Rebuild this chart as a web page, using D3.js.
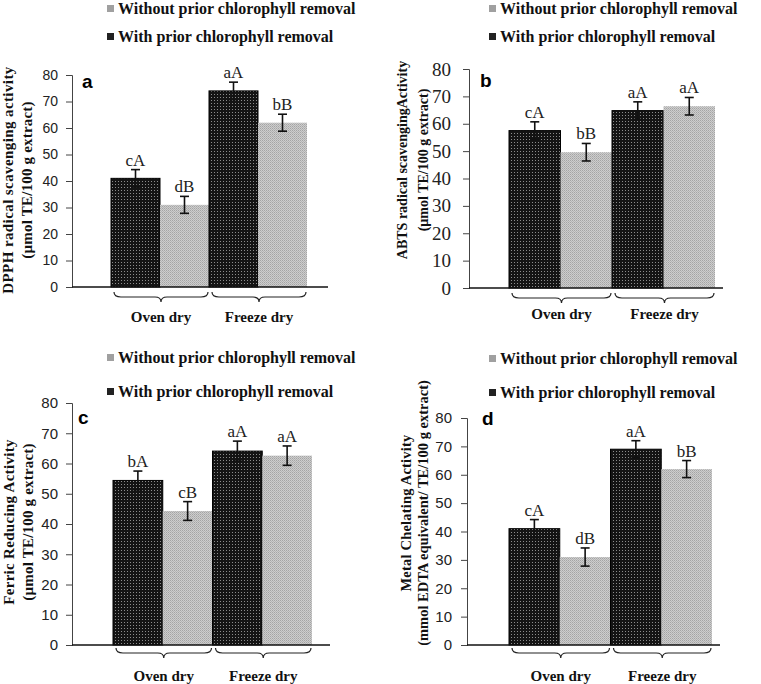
<!DOCTYPE html>
<html>
<head>
<meta charset="utf-8">
<script src="https://cdn.jsdelivr.net/npm/d3@7"></script>
<style>
  html, body { margin: 0; padding: 0; background: #fff; }
  svg { display: block; }
</style>
</head>
<body>
<div id="chart"></div>
<script>
// ---------- data ----------
const groups = ["Oven dry", "Freeze dry"];
const seriesNames = ["With prior chlorophyll removal", "Without prior chlorophyll removal"];
const legendOrder = ["Without prior chlorophyll removal", "With prior chlorophyll removal"];
const yTickValues = [0, 10, 20, 30, 40, 50, 60, 70, 80];

// a - DPPH
const dpphWith = [41, 74];
const dpphWithout = [31, 62];
const dpphErrWith = [3.3, 3.3];
const dpphErrWithout = [3.2, 3.2];
const dpphLabelsWith = ["cA", "aA"];
const dpphLabelsWithout = ["dB", "bB"];

// b - ABTS
const abtsWith = [57.5, 64.8];
const abtsWithout = [49.6, 66.4];
const abtsErrWith = [3.2, 3.2];
const abtsErrWithout = [3.2, 3.2];
const abtsLabelsWith = ["cA", "aA"];
const abtsLabelsWithout = ["bB", "aA"];

// c - Ferric reducing
const frapWith = [54.4, 64.1];
const frapWithout = [44.3, 62.6];
const frapErrWith = [3.1, 3.3];
const frapErrWithout = [3.1, 3.2];
const frapLabelsWith = ["bA", "aA"];
const frapLabelsWithout = ["cB", "aA"];

// d - Metal chelating
const mcaWith = [41, 69];
const mcaWithout = [31, 62];
const mcaErrWith = [3.2, 3.0];
const mcaErrWithout = [3.2, 3.0];
const mcaLabelsWith = ["cA", "aA"];
const mcaLabelsWithout = ["dB", "bB"];

// ---------- layout ----------
const W = 761, H = 684;
const svg = d3.select("#chart").append("svg").attr("width", W).attr("height", H);

const defs = svg.append("defs");
const pb = defs.append("pattern").attr("id", "patBlack").attr("patternUnits", "userSpaceOnUse")
  .attr("width", 3).attr("height", 3);
pb.append("rect").attr("width", 3).attr("height", 3).attr("fill", "#141414");
pb.append("rect").attr("x", 1).attr("y", 1).attr("width", 1).attr("height", 1).attr("fill", "#8c8c8c");
const pg = defs.append("pattern").attr("id", "patGrey").attr("patternUnits", "userSpaceOnUse")
  .attr("width", 2).attr("height", 2);
pg.append("rect").attr("width", 2).attr("height", 2).attr("fill", "#cdcdcd");
pg.append("rect").attr("x", 0).attr("y", 0).attr("width", 1).attr("height", 1).attr("fill", "#a4a4a4");
pg.append("rect").attr("x", 1).attr("y", 1).attr("width", 1).attr("height", 1).attr("fill", "#b4b4b4");

const fillFor = { "With prior chlorophyll removal": "url(#patBlack)", "Without prior chlorophyll removal": "url(#patGrey)" };
const legendSwatch = { "With prior chlorophyll removal": "#222", "Without prior chlorophyll removal": "#a0a0a0" };

const SERIF = "'Liberation Serif', 'Times New Roman', serif";
const SANS = "'Liberation Sans', Arial, sans-serif";

const panels = [
  { letter: "a", withV: dpphWith, withoutV: dpphWithout, errW: dpphErrWith, errWo: dpphErrWithout,
    labW: dpphLabelsWith, labWo: dpphLabelsWithout,
    ylabel: ["DPPH  radical  scavenging activity", "(µmol TE/100 g extract)"],
    axisX: 72, y0: 287, y80: 75, xStart: 111, xEnd: 307, lineEnd: 328,
    tickFont: SANS, tickSize: 14, tickPad: 8,
    labelX: [8, 27], labelCY: 180, labelSize: 15, labelSpacing: [0.4, 0.2],
    legendX: 107, legendY: [14, 42], letterX: 82, letterY: 88, groupLabelY: 322, braceY: 292 },
  { letter: "b", withV: abtsWith, withoutV: abtsWithout, errW: abtsErrWith, errWo: abtsErrWithout,
    labW: abtsLabelsWith, labWo: abtsLabelsWithout,
    ylabel: ["ABTS radical scavengingActivity", "(µmol TE/100 g extract)"],
    axisX: 469, y0: 288, y80: 69, xStart: 509, xEnd: 715, lineEnd: 723,
    tickFont: SERIF, tickSize: 19, tickPad: 12,
    labelX: [402, 423], labelCY: 160, labelSize: 14, labelSpacing: [0, 0],
    legendX: 489, legendY: [14, 42], letterX: 480, letterY: 87, groupLabelY: 319, braceY: 293 },
  { letter: "c", withV: frapWith, withoutV: frapWithout, errW: frapErrWith, errWo: frapErrWithout,
    labW: frapLabelsWith, labWo: frapLabelsWithout,
    ylabel: ["Ferric Reducing Activity", "(µmol TE/100 g extract)"],
    axisX: 72, y0: 645, y80: 403, xStart: 113, xEnd: 312, lineEnd: 330,
    tickFont: SANS, tickSize: 15, tickPad: 8,
    labelX: [9, 28], labelCY: 522, labelSize: 15, labelSpacing: [0.3, 0.2],
    legendX: 107, legendY: [363, 397], letterX: 78, letterY: 424, groupLabelY: 681, braceY: 648 },
  { letter: "d", withV: mcaWith, withoutV: mcaWithout, errW: mcaErrWith, errWo: mcaErrWithout,
    labW: mcaLabelsWith, labWo: mcaLabelsWithout,
    ylabel: ["Metal Chelating Activity", "(mmol  EDTA equivalent/ TE/100 g extract)"],
    axisX: 467, y0: 645, y80: 418, xStart: 509, xEnd: 712, lineEnd: 720,
    tickFont: SANS, tickSize: 15, tickPad: 9,
    labelX: [406, 423], labelCY: 513, labelSize: 14.5, labelSpacing: [0.2, 0],
    legendX: 489, legendY: [364, 398], letterX: 482, letterY: 425, groupLabelY: 681, braceY: 648 }
];

panels.forEach(p => {
  const g = svg.append("g");
  const y = d3.scaleLinear().domain([0, 80]).range([p.y0, p.y80]);
  const x0 = d3.scaleBand().domain(groups).range([p.xStart, p.xEnd]).paddingInner(0).paddingOuter(0);
  const x1 = d3.scaleBand().domain(seriesNames).range([0, x0.bandwidth()]).padding(0);

  // legend
  legendOrder.forEach((s, i) => {
    const ly = p.legendY[i];
    g.append("rect").attr("x", p.legendX).attr("y", ly - 9).attr("width", 7).attr("height", 7)
      .attr("fill", legendSwatch[s]);
    g.append("text").attr("x", p.legendX + 11).attr("y", ly)
      .attr("font-family", SERIF).attr("font-weight", "bold").attr("font-size", 16)
      .attr("fill", "#111").text(s);
  });

  // y axis
  const axis = d3.axisLeft(y).tickValues(yTickValues).tickSize(6).tickPadding(p.tickPad);
  const ag = g.append("g").attr("transform", `translate(${p.axisX},0)`).call(axis);
  ag.select(".domain").attr("stroke", "#444").attr("stroke-width", 1);
  ag.selectAll(".tick line").attr("stroke", "#444");
  ag.selectAll(".tick text").attr("font-family", p.tickFont).attr("font-size", p.tickSize).attr("fill", "#222");

  // bars
  const rows = [];
  groups.forEach((grp, gi) => {
    rows.push({ grp, s: seriesNames[0], v: p.withV[gi], e: p.errW[gi], lab: p.labW[gi] });
    rows.push({ grp, s: seriesNames[1], v: p.withoutV[gi], e: p.errWo[gi], lab: p.labWo[gi] });
  });
  rows.forEach(r => {
    const bx = x0(r.grp) + x1(r.s), bw = x1.bandwidth();
    g.append("rect").attr("x", bx).attr("y", y(r.v)).attr("width", bw).attr("height", y(0) - y(r.v))
      .attr("fill", fillFor[r.s])
      .attr("stroke", r.s === seriesNames[0] ? "#000" : "none").attr("stroke-width", 1);
  });
  // error bars + labels
  rows.forEach(r => {
    const cx = x0(r.grp) + x1(r.s) + x1.bandwidth() / 2;
    const top = y(r.v + r.e), bot = y(r.v - r.e);
    g.append("line").attr("x1", cx).attr("x2", cx).attr("y1", top).attr("y2", bot)
      .attr("stroke", "#111").attr("stroke-width", 1.6);
    [top, bot].forEach(yy => g.append("line").attr("x1", cx - 4.5).attr("x2", cx + 4.5)
      .attr("y1", yy).attr("y2", yy).attr("stroke", "#111").attr("stroke-width", 1.6));
    g.append("text").attr("x", cx).attr("y", top - 4).attr("text-anchor", "middle")
      .attr("font-family", SERIF).attr("font-size", 17).attr("fill", "#222").text(r.lab);
  });

  // x axis line
  g.append("line").attr("x1", p.axisX).attr("x2", p.lineEnd).attr("y1", y(0)).attr("y2", y(0))
    .attr("stroke", "#111").attr("stroke-width", 1.5);

  // braces + group labels
  groups.forEach(grp => {
    const a = x0(grp) + 3, b = x0(grp) + x0.bandwidth() - 1, m = (a + b) / 2, t = p.braceY;
    const path = `M${a},${t} Q${a},${t + 5} ${a + 7},${t + 5} L${m - 6},${t + 5} Q${m},${t + 5} ${m},${t + 10}
      Q${m},${t + 5} ${m + 6},${t + 5} L${b - 7},${t + 5} Q${b},${t + 5} ${b},${t}`;
    g.append("path").attr("d", path).attr("fill", "none").attr("stroke", "#222").attr("stroke-width", 1.2);
    g.append("text").attr("x", m).attr("y", p.groupLabelY).attr("text-anchor", "middle")
      .attr("font-family", SERIF).attr("font-weight", "bold").attr("font-size", 15)
      .attr("fill", "#111").text(grp);
  });

  // y label
  p.ylabel.forEach((line, i) => {
    g.append("text").attr("transform", `translate(${p.labelX[i]},${p.labelCY}) rotate(-90)`)
      .attr("text-anchor", "middle").attr("dy", "0.35em")
      .attr("font-family", SERIF).attr("font-weight", "bold").attr("font-size", p.labelSize)
      .attr("letter-spacing", p.labelSpacing[i]).attr("fill", "#111").text(line);
  });

  // panel letter
  g.append("text").attr("x", p.letterX).attr("y", p.letterY)
    .attr("font-family", SANS).attr("font-weight", "bold").attr("font-size", 19)
    .attr("fill", "#000").text(p.letter);
});
</script>
</body>
</html>
